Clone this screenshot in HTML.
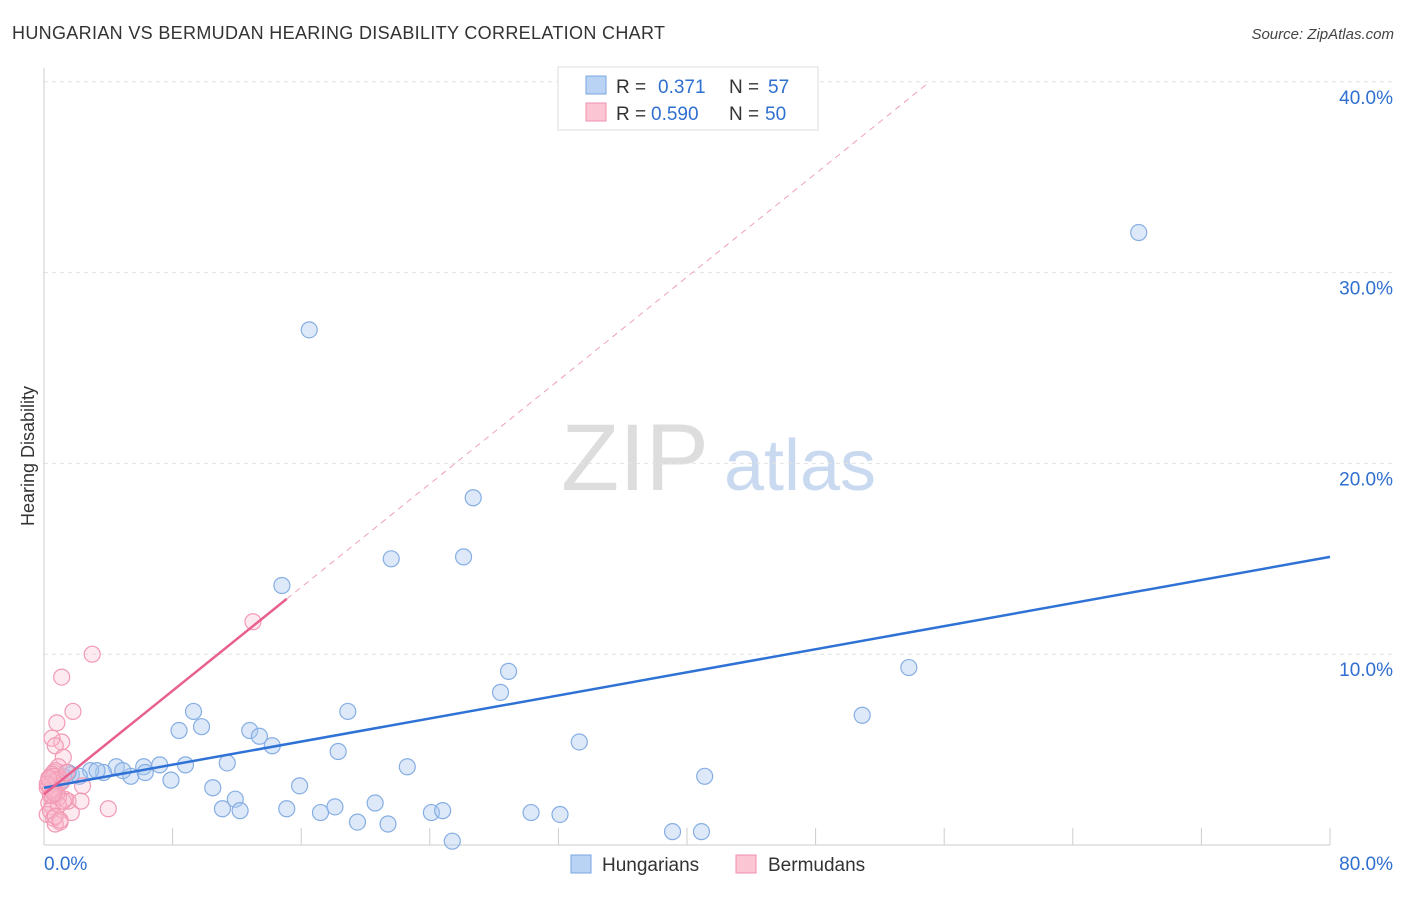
<!DOCTYPE html>
<html><head><meta charset="utf-8"><style>
body{margin:0;background:#fff;font-family:"Liberation Sans",sans-serif}
svg text{font-family:"Liberation Sans",sans-serif}
</style></head><body>
<svg id="c" width="1406" height="892">
<text x="12" y="39" font-size="18" fill="#333" textLength="653">HUNGARIAN VS BERMUDAN HEARING DISABILITY CORRELATION CHART</text>
<text x="1394" y="39" font-size="15" fill="#444" text-anchor="end" font-style="italic">Source: ZipAtlas.com</text>
<text x="34" y="456" font-size="18" fill="#333" text-anchor="middle" transform="rotate(-90 34 456)">Hearing Disability</text>
<g><text x="635" y="490" font-size="95" fill="#ddd" text-anchor="middle" font-family="Liberation Serif">ZIP</text><text x="800" y="490" font-size="72" fill="#c9daf0" text-anchor="middle">atlas</text></g>
<g id="grid"></g><g id="marks"></g>
<g>
<rect x="558" y="67" width="260" height="63" fill="#fff" stroke="#ddd"/>
<rect x="586" y="76" width="20" height="18" fill="#b9d3f5" stroke="#7aa6e0"/>
<rect x="586" y="103" width="20" height="18" fill="#fbc5d4" stroke="#f08fab"/>
<text x="616" y="93" font-size="19" fill="#333">R =</text><text x="658" y="93" font-size="19" fill="#2f6fd0">0.371</text>
<text x="729" y="93" font-size="19" fill="#333">N =</text><text x="768" y="93" font-size="19" fill="#2f6fd0">57</text>
<text x="616" y="120" font-size="19" fill="#333">R =</text><text x="651" y="120" font-size="19" fill="#2f6fd0">0.590</text>
<text x="729" y="120" font-size="19" fill="#333">N =</text><text x="765" y="120" font-size="19" fill="#2f6fd0">50</text>
</g>
<g>
<rect x="571" y="855" width="20" height="18" fill="#b9d3f5" stroke="#7aa6e0"/><text x="602" y="871" font-size="19" fill="#333">Hungarians</text>
<rect x="736" y="855" width="20" height="18" fill="#fbc5d4" stroke="#f08fab"/><text x="768" y="871" font-size="19" fill="#333">Bermudans</text>
</g>
</svg>
<script>
const yTicks=[10,20,30,40];
const yTickLabels=["10.0%","20.0%","30.0%","40.0%"];
const xTicks=[0,8,16,24,32,40,48,56,64,72,80];
const blueX=[68.1,16.5,26.7,21.6,26.1,14.8,28.9,53.8,28.4,50.9,9.3,18.9,8.4,9.8,12.8,13.4,14.2,33.3,18.3,11.4,22.6,41.1,7.2,8.8,6.2,4.5,5.4,6.3,7.9,4.9,3.7,2.9,1.7,1.0,1.2,15.9,10.5,11.9,11.1,12.2,15.1,17.2,18.1,20.6,19.5,21.4,24.1,24.8,30.3,32.1,25.4,39.1,40.9,2.2,0.7,1.5,3.3];
const blueY=[32.1,27.0,18.2,15.0,15.1,13.6,9.1,9.3,8.0,6.8,7.0,7.0,6.0,6.2,6.0,5.7,5.2,5.4,4.9,4.3,4.1,3.6,4.2,4.2,4.1,4.1,3.6,3.8,3.4,3.9,3.8,3.9,3.7,3.3,3.6,3.1,3.0,2.4,1.9,1.8,1.9,1.7,2.0,2.2,1.2,1.1,1.7,1.8,1.7,1.6,0.2,0.7,0.7,3.6,3.4,3.8,3.9];
const pinkX=[3.0,1.1,1.8,0.8,1.1,0.5,0.7,1.2,0.9,13.0,4.0,1.7,2.4,0.4,0.3,0.6,0.8,1.0,0.2,0.5,0.7,1.3,1.5,0.4,0.6,0.9,1.1,0.3,0.5,0.8,0.2,0.4,0.6,1.0,0.7,0.3,0.5,0.9,1.2,0.4,0.6,0.8,0.2,0.5,0.7,1.0,0.3,0.6,2.3,1.4];
const pinkY=[10.0,8.8,7.0,6.4,5.4,5.6,5.2,4.6,4.1,11.7,1.9,1.7,3.1,3.6,3.4,3.8,3.2,3.5,3.0,2.8,3.9,2.4,2.3,2.6,2.9,2.5,3.3,2.2,2.0,2.7,1.6,1.8,1.4,1.2,1.1,3.1,3.7,2.1,2.3,2.9,3.6,3.4,3.2,2.6,1.5,1.3,3.5,2.7,2.3,3.8];
const blueLine=[0,3.0,80,15.1];
const pinkLine=[0,2.66,15.1,55.1];
const sx=v=>44+v*16.075, sy=v=>845-v*19.08;
const NS="http://www.w3.org/2000/svg";
function mk(t,a,p){const e=document.createElementNS(NS,t);for(const k in a)e.setAttribute(k,a[k]);p.appendChild(e);return e;}
const g=document.getElementById('grid'), m=document.getElementById('marks');
yTicks.forEach((t,i)=>{
 const l=mk('line',{x1:44,x2:1394,y1:sy(t),y2:sy(t),stroke:'#e2e2e2','stroke-dasharray':'4,4'},g);
 
 
 const tx=mk('text',{x:1393,y:sy(t)+22,'font-size':19,fill:'#2f6fd0','text-anchor':'end'},g);tx.textContent=yTickLabels[i];
 
 
});
const ax=mk('line',{x1:44,x2:44,y1:68,y2:845,stroke:'#ccc'},g);


const bx=mk('line',{x1:44,x2:1330,y1:845,y2:845,stroke:'#ccc'},g);


xTicks.forEach(t=>{const l=mk('line',{x1:sx(t),x2:sx(t),y1:828,y2:845,stroke:'#ccc'},g);
 
 });
let t0=mk('text',{x:44,y:870,'font-size':19,fill:'#2f6fd0'},g);t0.textContent='0.0%';


let t1=mk('text',{x:1393,y:870,'font-size':19,fill:'#2f6fd0','text-anchor':'end'},g);t1.textContent='80.0%';


blueX.forEach((x,i)=>{const c=mk('circle',{cx:sx(x),cy:sy(blueY[i]),r:8,fill:'rgba(170,200,240,0.4)',stroke:'#86aee3','stroke-width':1.2},m);
 
 });
pinkX.forEach((x,i)=>{const c=mk('circle',{cx:sx(x),cy:sy(pinkY[i]),r:8,fill:'rgba(250,185,205,0.3)',stroke:'#f29ab3','stroke-width':1.2},m);
 
 });
const bl=mk('line',{x1:sx(blueLine[0]),y1:sy(blueLine[1]),x2:sx(blueLine[2]),y2:sy(blueLine[3]),stroke:'#2f72d6','stroke-width':2.5},m);


const pe=pinkLine[1]+pinkLine[2]*0.678;
const pl=mk('line',{x1:sx(0),y1:sy(pinkLine[1]),x2:sx(pinkLine[2]),y2:sy(pe),stroke:'#e8608e','stroke-width':2.5},m);


const pd=mk('line',{x1:sx(pinkLine[2]),y1:sy(pe),x2:sx(pinkLine[3]),y2:sy(40),stroke:'#f0a0b8','stroke-width':1,'stroke-dasharray':'6,5'},m);


</script>
</body></html>
